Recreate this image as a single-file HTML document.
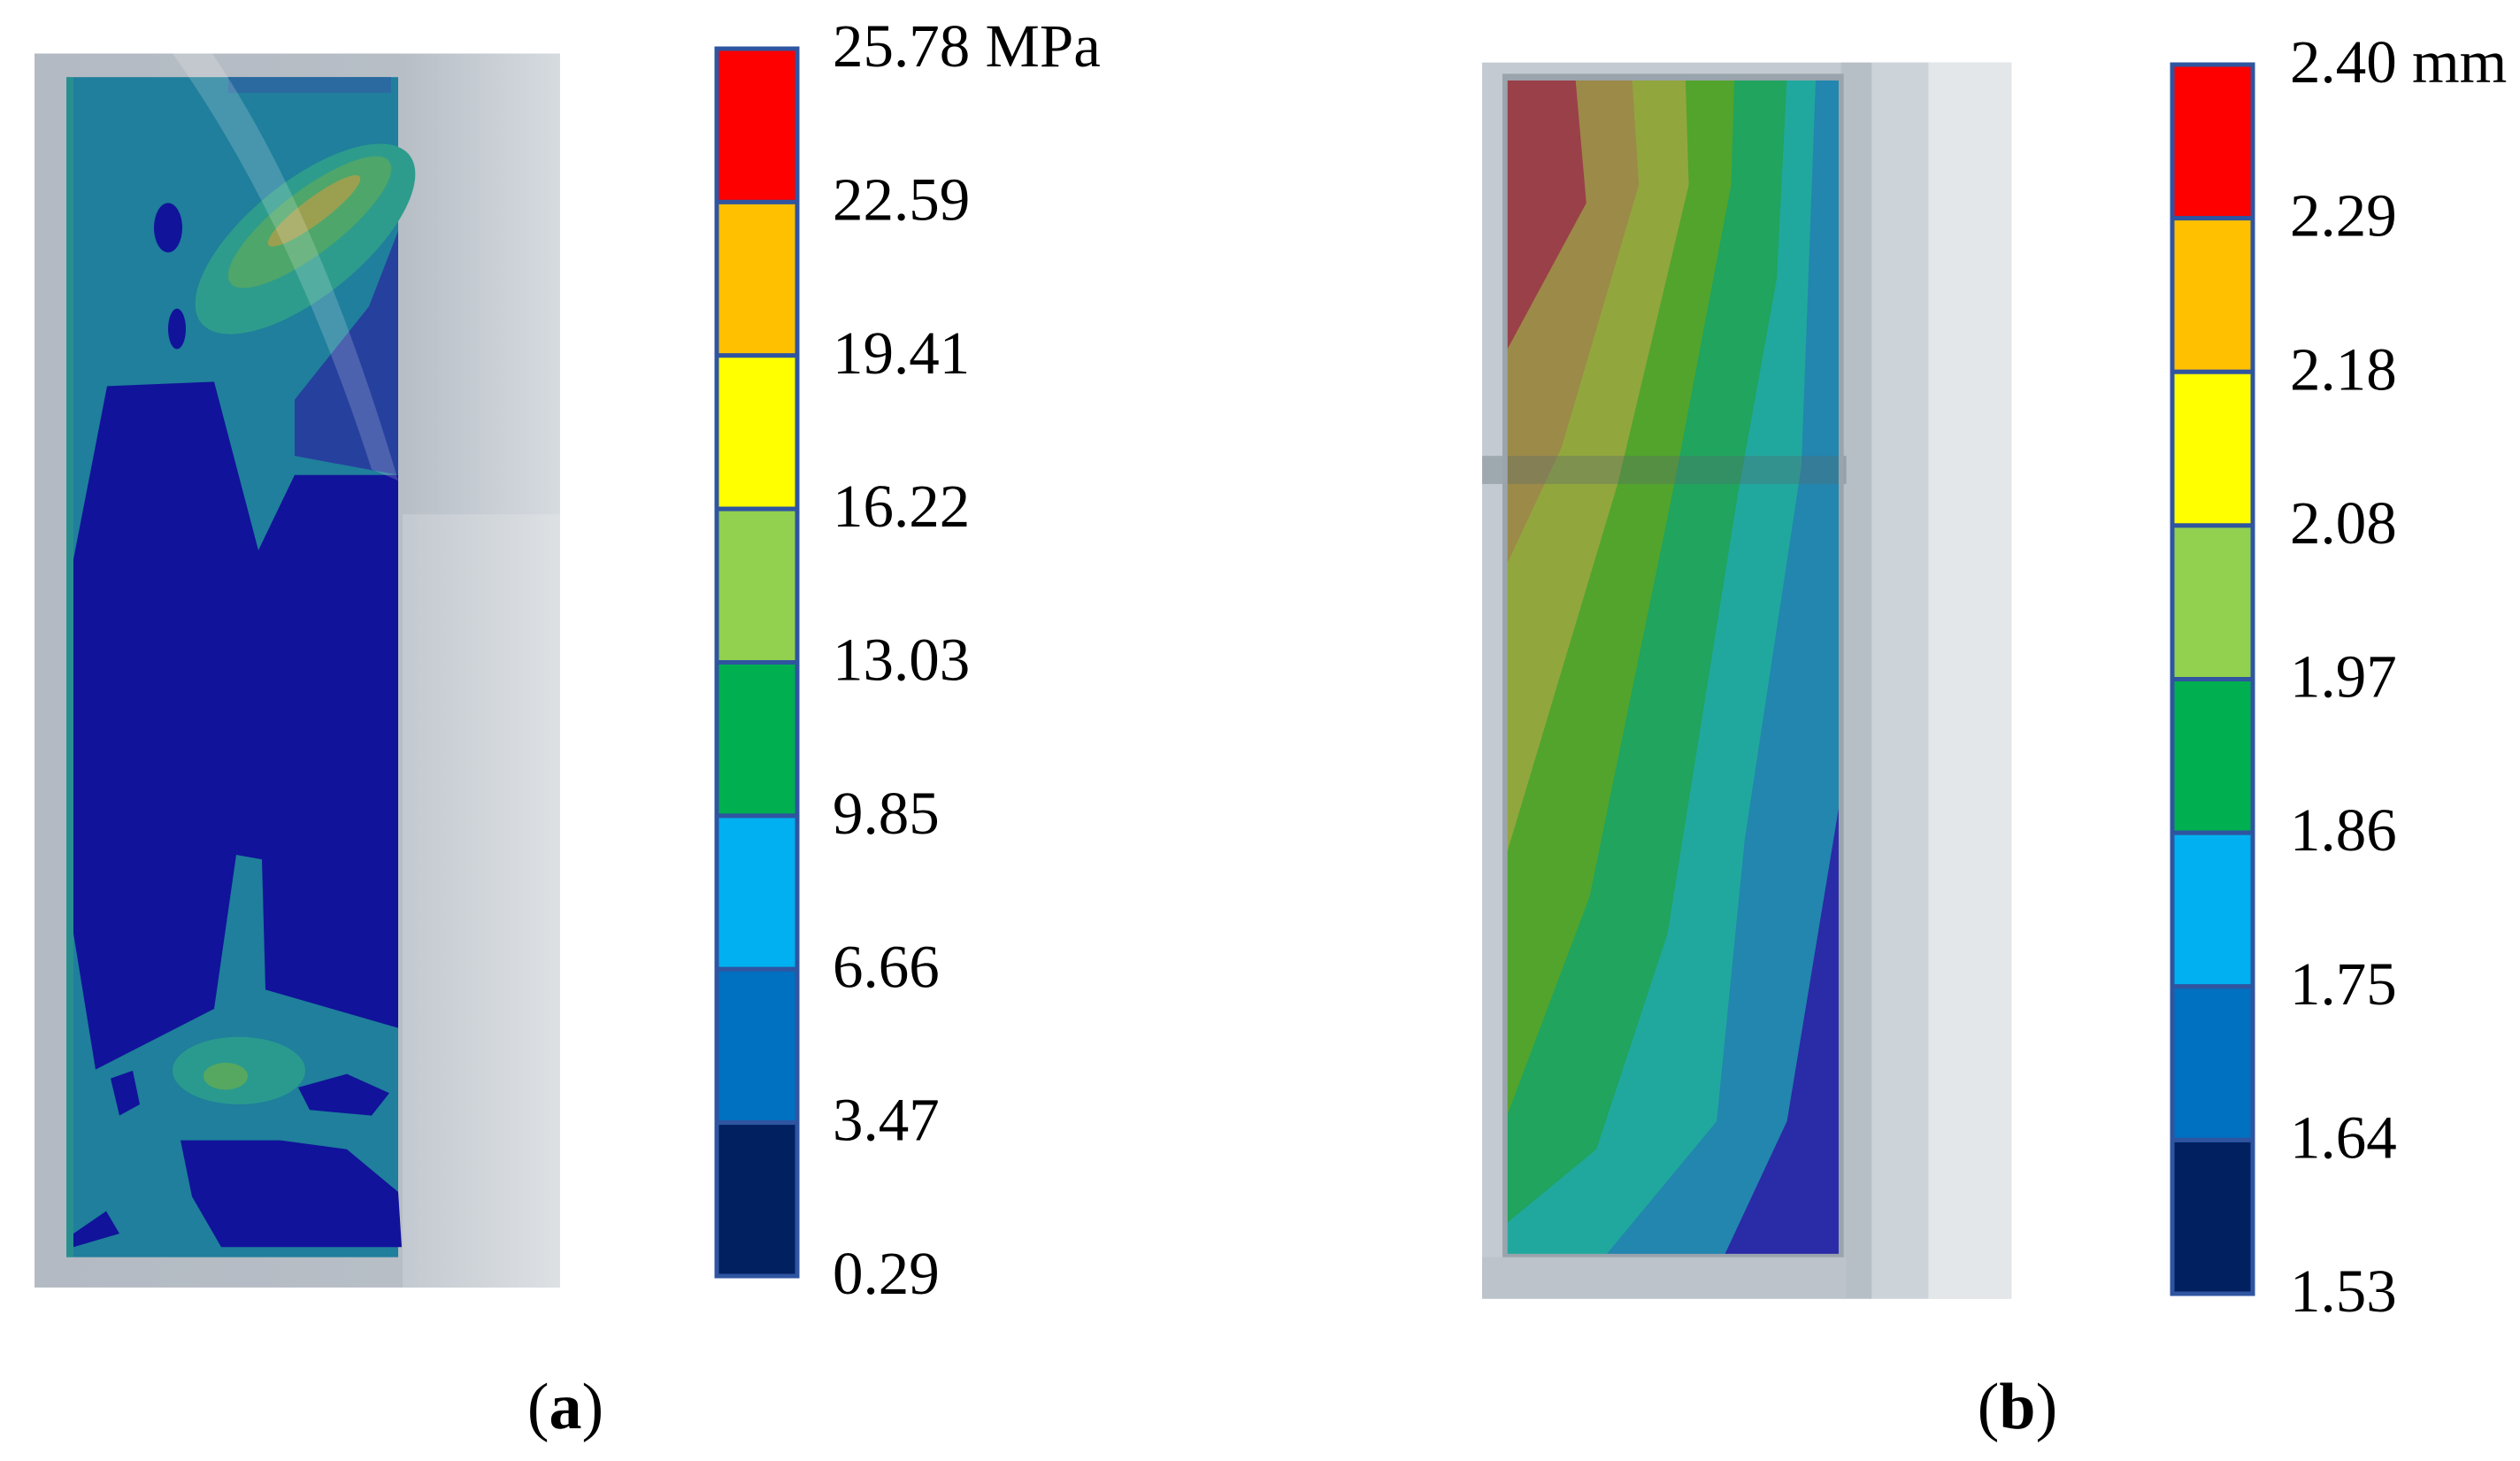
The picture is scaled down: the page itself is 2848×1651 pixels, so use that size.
<!DOCTYPE html>
<html><head><meta charset="utf-8">
<style>
html,body{margin:0;padding:0;background:#fff;}
body{width:2848px;height:1651px;overflow:hidden;position:relative;font-family:"Liberation Serif",serif;}
svg{position:absolute;left:0;top:0;}
</style></head>
<body>
<svg id="fig" width="2848" height="1651" viewBox="0 0 2848 1651">
<defs>
<linearGradient id="gA" x1="0" x2="1" y1="0" y2="0">
<stop offset="0" stop-color="#b3bac3"/><stop offset="0.7" stop-color="#b7bec6"/><stop offset="1" stop-color="#d6dbe0"/></linearGradient>
<linearGradient id="gA2" x1="0" x2="1"><stop offset="0" stop-color="#c3c9d0"/><stop offset="1" stop-color="#dde1e4"/></linearGradient>
</defs>
<g transform="matrix(1,0,0,1.27,0,-3)">
<rect x="39" y="50" width="594" height="1098" fill="url(#gA)"/>
<rect x="455" y="460" width="178" height="688" fill="url(#gA2)"/>
<rect x="75" y="71" width="375" height="1050" fill="#1f7f9c"/>
<polygon fill="#11139a" points="121,346 242,342 292,492 333,425 450,425 450,917 300,883 296,767 267,763 242,900 108,954 83,833 83,500"/>
<polygon fill="#26409e" points="333,408 333,358 417,275 450,208 450,425"/>
<polygon fill="#2a6aa0" points="258,71 442,71 442,85 258,85"/>
<polygon fill="#11139a" points="204,1017 317,1017 392,1025 450,1063 454,1112 250,1112 217,1067"/>
<polygon fill="#11139a" points="83,1100 120,1080 135,1100 83,1112"/>
<polygon fill="#11139a" points="337,970 392,958 440,975 420,995 350,990"/>
<polygon fill="#11139a" points="125,962 150,955 158,985 135,995"/>
<ellipse cx="190" cy="205" rx="16" ry="22" fill="#11139a"/>
<ellipse cx="200" cy="295" rx="10" ry="18" fill="#11139a"/>
<ellipse cx="345" cy="215" rx="140" ry="55" transform="rotate(-30 345 215)" fill="#2e9c8c"/>
<ellipse cx="350" cy="200" rx="105" ry="30" transform="rotate(-30 350 200)" fill="#4ea66a"/>
<ellipse cx="355" cy="190" rx="60" ry="12" transform="rotate(-30 355 190)" fill="#9aa050"/>
<ellipse cx="270" cy="955" rx="75" ry="30" fill="#2a9a8e"/>
<ellipse cx="255" cy="960" rx="25" ry="12" fill="#56a860"/>
<rect x="75" y="71" width="8" height="1050" fill="#2e9a88" opacity="0.6"/>
<path d="M195,50 Q330,200 420,420 L450,430 Q360,190 240,50 Z" fill="#ffffff" opacity="0.18"/>
</g>
<g transform="matrix(0.957,0,0,1.27,74,-3)">
<rect x="1673" y="58" width="625" height="1100" fill="#c3cad1"/>
<rect x="2097" y="58" width="36" height="1100" fill="#b6bec6"/>
<rect x="2133" y="58" width="67" height="1100" fill="#ccd3d9"/>
<rect x="2200" y="58" width="98" height="1100" fill="#e3e7e9"/>
<g id="bands"></g>
<rect x="1673" y="408" width="430" height="25" fill="#5a6a70" opacity="0.35"/>
<rect x="1700" y="71" width="397" height="1050" fill="none" stroke="#9aa4ad" stroke-width="6"/>
<rect x="1673" y="1121" width="430" height="37" fill="#bcc3ca"/>
</g>
<g id="cbA"></g>
<g id="cbB"></g>
<text x="639" y="1614" font-size="74" text-anchor="middle">(<tspan font-weight="bold">a</tspan>)</text>
<text x="2280" y="1614" font-size="74" text-anchor="middle">(<tspan font-weight="bold">b</tspan>)</text>
</svg>
<script>
const NS="http://www.w3.org/2000/svg";
const barColors=["#ff0000","#ffc000","#ffff00","#92d050","#00b050","#00b0f0","#0070c0","#002060"];
const labelsA=["25.78 MPa","22.59","19.41","16.22","13.03","9.85","6.66","3.47","0.29"];
const labelsB=["2.40 mm","2.29","2.18","2.08","1.97","1.86","1.75","1.64","1.53"];
function colorbar(id,x,y0,w,y1,labels,lx,prefix){
  const g=document.getElementById(id);
  const n=barColors.length, h=(y1-y0)/n;
  barColors.forEach((c,i)=>{
    const r=document.createElementNS(NS,"rect");
    r.setAttribute("x",x);r.setAttribute("y",y0+i*h);r.setAttribute("width",w);r.setAttribute("height",h);
    r.setAttribute("fill",c);r.setAttribute("stroke","#2f55a0");r.setAttribute("stroke-width","5");
    
    
    g.appendChild(r);
  });
  labels.forEach((t,i)=>{
    const tx=document.createElementNS(NS,"text");
    tx.setAttribute("x",lx);tx.setAttribute("y",y0+i*h+20);tx.setAttribute("font-size","69");
    tx.textContent=t;
    
    
    g.appendChild(tx);
  });
}
colorbar("cbA",810,55,91,1442,labelsA,941,"stress");
colorbar("cbB",2455,73,91,1462,labelsB,2588,"displacement");
const bandColors=["#2a2ba6","#2286ae","#20a89e","#20a45e","#52a42c","#92a63e","#9c8a48","#9a4048"];
const bandEdges=[
 [[2097,71],[2097,708],[2033,1000],[1958,1121]],
 [[2067,71],[2050,417],[1983,750],[1950,1000],[1817,1121]],
 [[2033,71],[2021,250],[1975,442],[1892,833],[1808,1025],[1700,1092]],
 [[1971,71],[1967,167],[1900,433],[1800,800],[1700,1000]],
 [[1913,71],[1917,167],[1833,433],[1700,767]],
 [[1850,71],[1858,167],[1767,400],[1700,508]],
 [[1783,71],[1796,183],[1700,317]]
];
const gb=document.getElementById("bands");
function addPoly(pts,fill,name){
  const p=document.createElementNS(NS,"polygon");
  p.setAttribute("points",pts.map(q=>q.join(",")).join(" "));
  p.setAttribute("fill",fill);
  
  
  gb.appendChild(p);
}
addPoly([[1700,71],[2097,71],[2097,1121],[1700,1121]],bandColors[0],"contour-band");
bandEdges.forEach((e,i)=>{
  const last=e[e.length-1];
  const pts=[[1700,71]].concat(e);
  if(last[1]>=1121) pts.push([1700,1121]); else pts.push([1700,last[1]]);
  addPoly(pts,bandColors[i+1],"contour-band");
});
</script>
</body></html>
